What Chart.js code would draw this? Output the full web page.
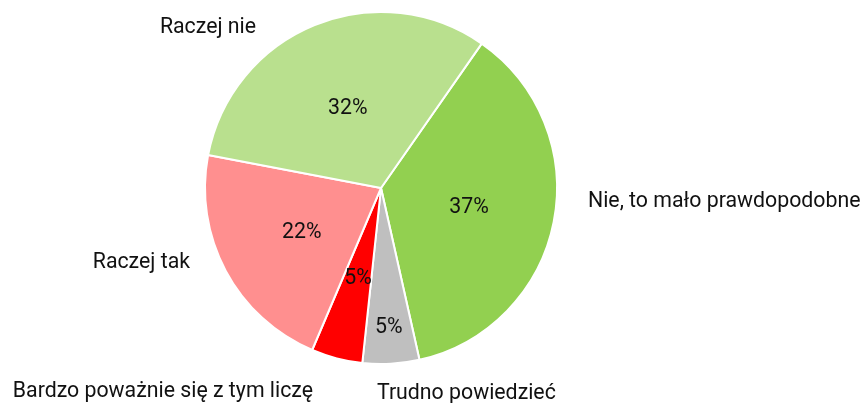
<!DOCTYPE html>
<html>
<head>
<meta charset="utf-8">
<script src="https://cdn.jsdelivr.net/npm/chart.js@4"></script>
<style>
  html, body { margin: 0; padding: 0; background: #fff; }
  #wrap { width: 862px; height: 403px; }
</style>
</head>
<body>
<div id="wrap"><canvas id="pieChart" width="862" height="403"></canvas></div>
<script>
// slices in clockwise order, starting from the top-right boundary
const labels = [
  "Nie, to mało prawdopodobne",
  "Trudno powiedzieć",
  "Bardzo poważnie się z tym liczę",
  "Raczej tak",
  "Raczej nie"
];
const values = [36.8, 5.2, 4.7, 21.6, 31.7];
const colors = ["#92d050", "#bfbfbf", "#ff0000", "#ff8f8f", "#b9e08e"];

// label placement (offsets relative to pie centre, in radius units)
const outerPos = [
  { dx: 1.176, dy: 0.106, align: "left" },
  { dx: -0.023, dy: 1.199, align: "left" },
  { dx: -0.386, dy: 1.1875, align: "right" },
  { dx: -1.085, dy: 0.456, align: "right" },
  { dx: -0.71, dy: -0.879, align: "right" }
];
const innerDist = [0.51, 0.785, 0.52, 0.51, 0.5];

const labelPlugin = {
  id: "pieLabels",
  afterDraw(chart) {
    const ctx = chart.ctx;
    const meta = chart.getDatasetMeta(0);
    const total = values.reduce((a, b) => a + b, 0);
    ctx.save();
    ctx.fillStyle = "#111111";
    ctx.font = "21.3px Roboto";
    ctx.textBaseline = "alphabetic";
    meta.data.forEach((arc, i) => {
      const p = arc.getProps(["x", "y", "startAngle", "endAngle", "outerRadius"], true);
      const mid = (p.startAngle + p.endAngle) / 2;
      const r = p.outerRadius * innerDist[i];
      const pct = Math.round(values[i] / total * 100) + "%";
      ctx.textAlign = "center";
      ctx.fillText(pct, p.x + Math.cos(mid) * r, p.y + Math.sin(mid) * r + 7.5);
    });
    meta.data.forEach((arc, i) => {
      const p = arc.getProps(["x", "y", "outerRadius"], true);
      const o = outerPos[i];
      ctx.textAlign = o.align;
      ctx.fillText(labels[i], p.x + o.dx * p.outerRadius, p.y + o.dy * p.outerRadius);
    });
    ctx.restore();
  }
};

new Chart(document.getElementById("pieChart"), {
  type: "pie",
  data: {
    labels: labels,
    datasets: [{
      data: values,
      backgroundColor: colors,
      borderColor: "#ffffff",
      borderWidth: 2
    }]
  },
  options: {
    responsive: false,
    animation: false,
    rotation: 34.9,
    layout: { padding: { left: 100, right: 200, top: 11, bottom: 38 } },
    plugins: {
      legend: { display: false },
      tooltip: { enabled: false }
    }
  },
  plugins: [labelPlugin]
});
</script>
</body>
</html>
